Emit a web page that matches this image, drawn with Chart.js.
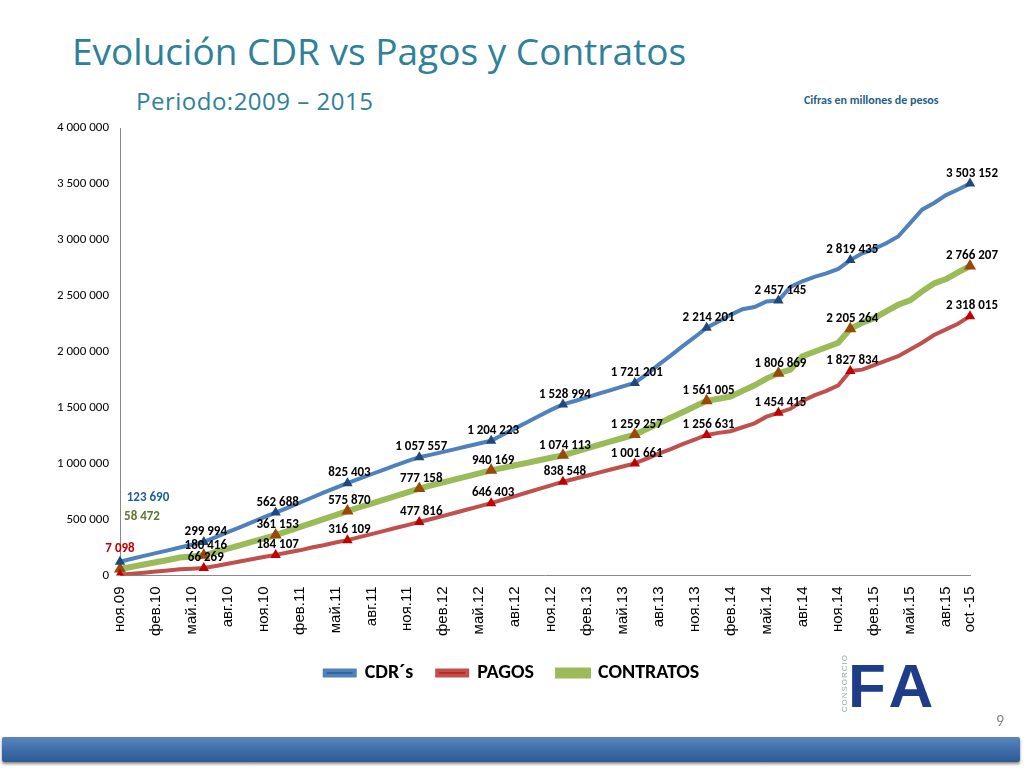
<!DOCTYPE html>
<html>
<head>
<meta charset="utf-8">
<script src="https://cdn.jsdelivr.net/npm/chart.js@4/dist/chart.umd.min.js"></script>
<style>
  body { margin: 0; width: 1024px; height: 768px; background: #fff; position: relative; overflow: hidden; font-family: Calibri, "Liberation Sans", Arial, sans-serif; }
  #title { position: absolute; left: 72px; top: 25px; font-size: 37px; color: #2E8199; font-family: "Open Sans", Arial, sans-serif; }
  #sub { position: absolute; left: 136px; top: 84px; font-size: 24px; color: #2E8199; font-family: "Open Sans", Arial, sans-serif; letter-spacing: 0.5px; }
  #cifras { position: absolute; left: 804px; top: 93px; font-size: 12px; font-weight: bold; color: #1F5F8B; }
  #wrap { position: absolute; left: 54px; top: 116px; width: 946px; height: 577px; }
  #logo { position: absolute; left: 848px; top: 650px; width: 120px; height: 70px; color: #1F3C88; font-weight: bold; font-size: 62px; font-family: "Liberation Sans", Arial; letter-spacing: 6px; }
  #logo small { position: absolute; left: -8px; top: 4px; font-size: 8px; color: #9aa; letter-spacing: 1px; writing-mode: vertical-rl; transform: rotate(180deg); font-weight: normal; }
  #page { position: absolute; left: 996px; top: 711px; font-size: 16px; color: #888; }
  #bar { position: absolute; left: 2px; top: 737px; width: 1018px; height: 25px; background: linear-gradient(#5a86bd, #3a6aa6 60%, #2f5a92); border-radius: 2px; box-shadow: 0 2px 3px #888; }
</style>
</head>
<body>
<div id="title">Evolución CDR vs Pagos y Contratos</div>
<div id="sub">Periodo:2009 – 2015</div>
<div id="cifras">Cifras en millones de pesos</div>
<div id="wrap"><canvas id="myChart"></canvas></div>
<div id="logo"><small>CONSORCIO</small>F&#8203;A</div>
<div id="page">9</div>
<div id="bar"></div>
<script>
// months shown: nov 2009 .. oct 2015
var monthNames = ["янв", "фев", "мар", "апр", "май", "июн", "июл", "авг", "сен", "окт", "ноя", "дек"];
var lastLabel = "oct -15";

// indexes with a marker and a value label
var markerIdx = [0, 7, 13, 19, 25, 31, 37, 43, 49, 55, 61, 71];

var cdr = [123690, 150000, 175000, 200000, 225000, 250000, 275000, 299994, 343000, 387000, 430000, 475000,
  520000, 562688, 605000, 650000, 695000, 740000, 783000, 825403, 865000, 905000, 945000, 985000,
  1022000, 1057557, 1080000, 1105000, 1130000, 1155000, 1180000, 1204223, 1260000, 1315000, 1370000, 1425000,
  1480000, 1528994, 1560000, 1592000, 1625000, 1657000, 1690000, 1721201, 1800000, 1885000, 1965000, 2050000,
  2130000, 2214201, 2270000, 2330000, 2380000, 2400000, 2450000, 2457145, 2580000, 2630000, 2670000, 2700000,
  2740000, 2819435, 2880000, 2920000, 2970000, 3030000, 3150000, 3270000, 3330000, 3400000, 3450000, 3503152];

var pagos = [7098, 15000, 25000, 35000, 45000, 55000, 60000, 66269, 85000, 105000, 125000, 145000,
  165000, 184107, 205000, 225000, 250000, 270000, 295000, 316109, 343000, 370000, 397000, 424000,
  450000, 477816, 505000, 533000, 561000, 590000, 618000, 646403, 678000, 710000, 742000, 774000,
  806000, 838548, 865000, 892000, 920000, 947000, 974000, 1001661, 1045000, 1090000, 1130000, 1175000,
  1215000, 1256631, 1275000, 1290000, 1325000, 1360000, 1420000, 1454415, 1490000, 1560000, 1610000, 1650000,
  1700000, 1827834, 1840000, 1880000, 1920000, 1960000, 2020000, 2080000, 2150000, 2200000, 2250000, 2318015];

var contratos = [58472, 78000, 98000, 118000, 138000, 160000, 170000, 180416, 210000, 240000, 270000, 300000,
  330000, 361153, 396000, 432000, 468000, 504000, 540000, 575870, 610000, 643000, 676000, 710000,
  743000, 777158, 805000, 832000, 859000, 886000, 913000, 940169, 962000, 985000, 1007000, 1030000,
  1052000, 1074113, 1105000, 1136000, 1167000, 1198000, 1229000, 1259257, 1310000, 1360000, 1410000, 1460000,
  1510000, 1561005, 1580000, 1600000, 1650000, 1700000, 1760000, 1806869, 1840000, 1960000, 2000000, 2040000,
  2080000, 2205264, 2260000, 2300000, 2360000, 2420000, 2460000, 2540000, 2610000, 2650000, 2710000, 2766207];

var labels = [];
for (var i = 0; i < cdr.length; i++) {
  var m = (10 + i) % 12;
  var y = 9 + Math.floor((10 + i) / 12);
  labels.push(i === cdr.length - 1 ? lastLabel : monthNames[m] + "." + (y < 10 ? "0" + y : y));
}

function fmt(v) {
  return String(v).replace(/\B(?=(\d{3})+(?!\d))/g, " ");
}
function radii(r) {
  return labels.map(function (l, i) { return markerIdx.indexOf(i) >= 0 ? r : 0; });
}

// value labels next to the markers
var valueLabels = {
  id: "valueLabels",
  afterDatasetsDraw: function (chart) {
    var ctx = chart.ctx;
    ctx.save();
    ctx.font = "bold 13px Calibri, 'Liberation Sans', Arial";
    ctx.textAlign = "center";
    var firstColors = ["#1F5F9B", "#C00000", "#5F7530"];
    var firstPos = [[28, -64], [0, -26], [22, -52]];
    chart.data.datasets.forEach(function (ds, d) {
      var meta = chart.getDatasetMeta(d);
      markerIdx.forEach(function (idx, k) {
        var p = meta.data[idx];
        if (k === 0) {
          ctx.fillStyle = firstColors[d];
          ctx.fillText(fmt(ds.data[idx]), p.x + firstPos[d][0], p.y + firstPos[d][1]);
          return;
        }
        ctx.fillStyle = "#000";
        ctx.fillText(fmt(ds.data[idx]), p.x + 2, p.y - 10);
      });
    });
    ctx.restore();
  }
};

var ctx = document.getElementById("myChart").getContext("2d");
var chart = new Chart(ctx, {
  type: "line",
  data: {
    labels: labels,
    datasets: [{
      label: "CDR´s",
      data: cdr,
      borderColor: "#4F81BD",
      backgroundColor: "#1F497D",
      borderWidth: 4,
      pointStyle: "triangle",
      pointRadius: radii(6),
      pointBorderWidth: 0
    }, {
      label: "PAGOS",
      data: pagos,
      borderColor: "#C0504D",
      backgroundColor: "#C00000",
      borderWidth: 4,
      pointStyle: "triangle",
      pointRadius: radii(6),
      pointBorderWidth: 0
    }, {
      label: "CONTRATOS",
      data: contratos,
      borderColor: "#9BBB59",
      backgroundColor: "#984807",
      borderWidth: 6,
      pointStyle: "triangle",
      pointRadius: radii(7),
      pointBorderWidth: 0
    }]
  },
  options: {
    responsive: true,
    maintainAspectRatio: false,
    animation: false,
    layout: { padding: { right: 30, top: 12 } },
    plugins: {
      legend: {
        position: "bottom",
        labels: {
          usePointStyle: false, boxWidth: 30, boxHeight: 5,
          color: "#000",
          font: { size: 20, weight: "bold", family: "Calibri, 'Liberation Sans', Arial" },
          padding: 24
        }
      },
      tooltip: { enabled: false }
    },
    scales: {
      x: {
        grid: { display: false, drawTicks: true },
        border: { color: "#888" },
        ticks: {
          autoSkip: false, maxRotation: 90, minRotation: 90,
          color: "#000", font: { size: 15, family: "'Liberation Sans', Arial" },
          callback: function (v, i) { return (i % 3 === 0 || i === labels.length - 1) ? labels[i] : ""; }
        }
      },
      y: {
        min: 0, max: 4000000,
        grid: { display: false },
        border: { color: "#888" },
        ticks: {
          stepSize: 500000, color: "#000",
          font: { size: 13, family: "Calibri, 'Liberation Sans', Arial" },
          callback: function (v) { return fmt(v); }
        }
      }
    }
  },
  plugins: [valueLabels]
});
</script>
</body>
</html>
